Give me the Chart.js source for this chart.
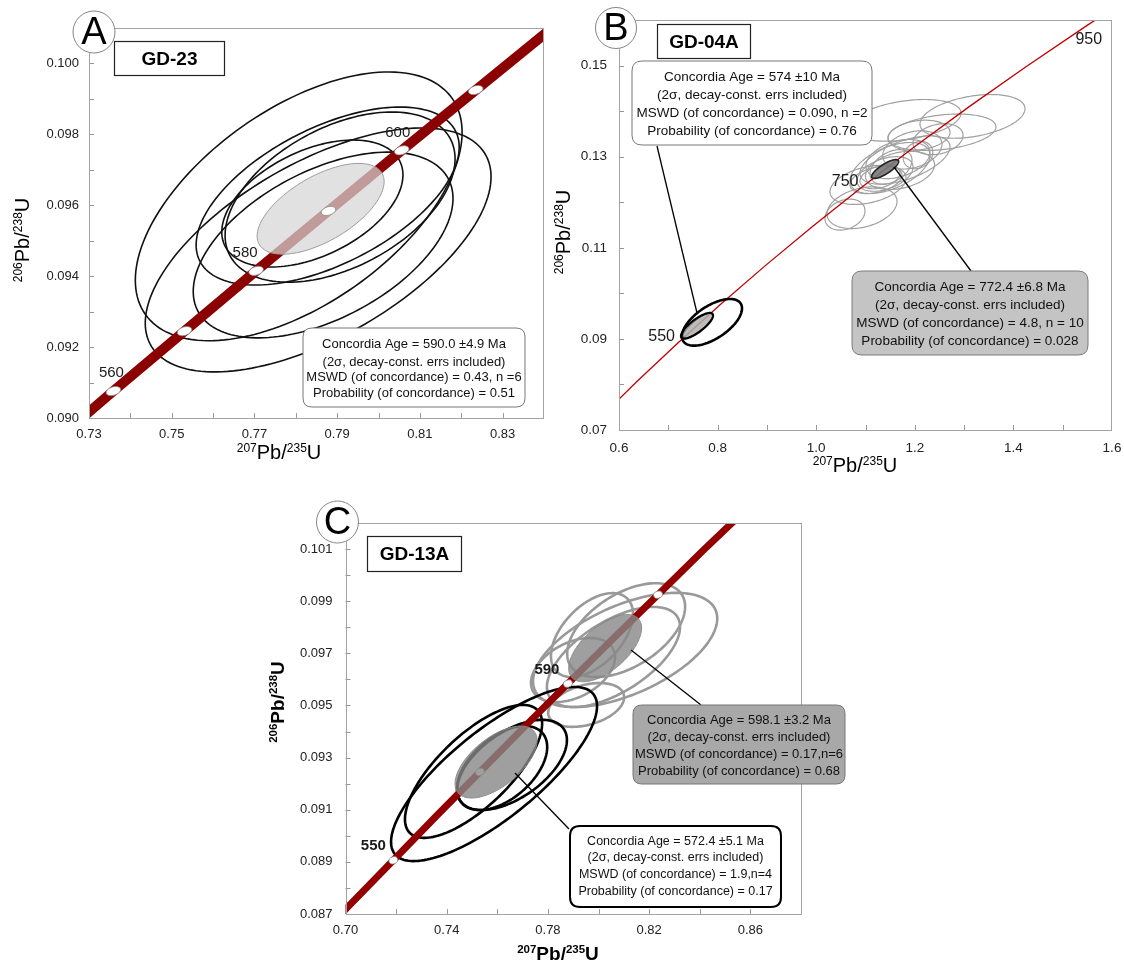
<!DOCTYPE html>
<html><head><meta charset="utf-8">
<script src="https://cdn.jsdelivr.net/npm/chart.js@4.4.1/dist/chart.umd.min.js"></script>
<style>
html,body{margin:0;padding:0;background:#fff;}
#wrap{position:relative;width:1124px;height:965px;overflow:hidden;background:#fff;}
canvas{position:absolute;}
</style></head><body>
<div id="wrap">
<canvas id="cA" width="562" height="470" style="left:0px;top:0px;width:562px;height:470px"></canvas>
<canvas id="cB" width="600" height="475" style="left:545px;top:0px;width:600px;height:475px"></canvas>
<canvas id="cC" width="600" height="485" style="left:250px;top:480px;width:600px;height:485px"></canvas>
</div>
<script>
// ---------------- DATA ----------------
// Concordia curve reference points (age, Ma) with 207Pb/235U and 206Pb/238U
const concAgesAC = [530,540,550,560,570,580,590,600,610,620,630,640,650];
const concX_AC   = [0.6853,0.7020,0.7189,0.7359,0.7531,0.7704,0.7879,0.8056,0.8235,0.8415,0.8598,0.8782,0.8968];
const concY_AC   = [0.08569,0.08738,0.08906,0.09076,0.09245,0.09415,0.09584,0.09755,0.09925,0.10096,0.10266,0.10438,0.10609];
const concAgesB  = [400,450,500,550,600,650,700,750,800,850,900,950,1000];
const concX_B    = [0.4828,0.5577,0.6363,0.7189,0.8056,0.8968,0.9925,1.0931,1.1987,1.3097,1.4263,1.5488,1.6773];
const concY_B    = [0.06402,0.07230,0.08065,0.08906,0.09755,0.10609,0.11470,0.12338,0.13213,0.14095,0.14983,0.15879,0.16781];

// age markers & labels
const A_markerAges = [560,570,580,590,600,610];
const A_labelAges  = [560,580,600];
const B_labelAges  = [550,750,950];
const C_markerAges = [550,570,590,610];
const C_labelAges  = [550,590];

// Panel A (GD-23) analyses: centre, 2s half-range in x & y, error correlation
const A_x   = [0.7807,0.7854,0.7866,0.7877,0.7840,0.7907];
const A_y   = [0.09597,0.09474,0.09488,0.09626,0.09605,0.09623];
const A_sx  = [0.0395,0.0418,0.0314,0.0318,0.0219,0.0278];
const A_sy  = [0.00379,0.00344,0.00262,0.00251,0.00179,0.00240];
const A_rho = [0.55,0.60,0.50,0.55,0.45,0.45];
// Panel A concordia-age ellipse
const A_mx = [0.7860], A_my = [0.09590], A_msx = [0.01535], A_msy = [0.00128], A_mrho = [0.60];

// Panel B (GD-04A) older population
const B_x   = [1.3170,1.2552,1.2085,1.1051,1.0584,1.1497,1.1659,1.2065,1.1396,1.1213,1.1517,1.2471,1.1801,1.1294,1.1700,1.1950,1.0929,1.1801];
const B_y   = [0.13886,0.13537,0.13472,0.12382,0.11729,0.12753,0.12949,0.13036,0.12622,0.12491,0.12775,0.13385,0.12927,0.12557,0.12700,0.13150,0.11881,0.13799];
const B_sx  = [0.1065,0.1095,0.0629,0.0771,0.0406,0.0811,0.0649,0.0300,0.0568,0.0527,0.0426,0.0507,0.0913,0.0406,0.0700,0.0600,0.0710,0.1136];
const B_sy  = [0.00480,0.00400,0.00330,0.00430,0.00340,0.00560,0.00430,0.00300,0.00380,0.00300,0.00380,0.00340,0.00530,0.00260,0.00420,0.00420,0.00458,0.00458];
const B_rho = [0.35,0.30,0.20,0.35,0.25,0.50,0.35,0.20,0.40,0.35,0.40,0.25,0.55,0.35,0.30,0.30,0.30,0.35];
// Panel B young population (n=2)
const B2_x = [0.7886,0.7582], B2_y = [0.09364,0.09288], B2_sx = [0.0609,0.0325], B2_sy = [0.00512,0.00283], B2_rho = [0.6,0.8];
// Panel B concordia-age ellipses (772.4 Ma, 574 Ma)
const B_mx = [1.1398,0.7602], B_my = [0.1273,0.09299], B_msx = [0.0274,0.0304], B_msy = [0.00207,0.00272], B_mrho = [0.8,0.85];

// Panel C (GD-13A) older population (grey, n=6)
const C_gx   = [0.7974,0.8109,0.8105,0.8059,0.7951,0.7899];
const C_gy   = [0.09770,0.09789,0.09713,0.09686,0.09502,0.09636];
const C_gsx  = [0.0162,0.0233,0.0364,0.0263,0.0150,0.0166];
const C_gsy  = [0.00161,0.00180,0.00219,0.00192,0.00084,0.00123];
const C_grho = [0.5,0.5,0.55,0.6,0.35,0.4];
// Panel C younger population (black, n=4)
const C_kx   = [0.7587,0.7506,0.7619,0.7658];
const C_ky   = [0.09237,0.09247,0.09260,0.09272];
const C_ksx  = [0.0407,0.0271,0.0178,0.0217];
const C_ksy  = [0.00334,0.00255,0.00161,0.00173];
const C_krho = [0.78,0.72,0.5,0.55];
// Panel C concordia-age ellipses (598.1 Ma, 572.4 Ma)
const C_mx = [0.8026,0.7595], C_my = [0.09720,0.09283], C_msx = [0.0144,0.0162], C_msy = [0.00129,0.00138], C_mrho = [0.6,0.6];

// Axis ticks (all tick marks) and labelled ticks
const A_xTicks = [0.73,0.74,0.75,0.76,0.77,0.78,0.79,0.80,0.81,0.82,0.83,0.84];
const A_xLabels = [0.73,0.75,0.77,0.79,0.81,0.83];
const A_yTicks = [0.090,0.091,0.092,0.093,0.094,0.095,0.096,0.097,0.098,0.099,0.100,0.101];
const A_yLabels = [0.090,0.092,0.094,0.096,0.098,0.100];
const B_xTicks = [0.6,0.7,0.8,0.9,1.0,1.1,1.2,1.3,1.4,1.5,1.6];
const B_xLabels = [0.6,0.8,1.0,1.2,1.4,1.6];
const B_yTicks = [0.07,0.08,0.09,0.10,0.11,0.12,0.13,0.14,0.15,0.16];
const B_yLabels = [0.07,0.09,0.11,0.13,0.15];
const C_xTicks = [0.70,0.72,0.74,0.76,0.78,0.80,0.82,0.84,0.86,0.88];
const C_xLabels = [0.70,0.74,0.78,0.82,0.86];
const C_yTicks = [0.087,0.088,0.089,0.090,0.091,0.092,0.093,0.094,0.095,0.096,0.097,0.098,0.099,0.100,0.101,0.102];
const C_yLabels = [0.087,0.089,0.091,0.093,0.095,0.097,0.099,0.101];

// text
const A_info = ["Concordia Age = 590.0 \u00B14.9 Ma","(2\u03C3, decay-const. errs included)","MSWD (of concordance) = 0.43, n =6","Probability (of concordance) = 0.51"];
const B_info1 = ["Concordia Age = 574 \u00B110 Ma","(2\u03C3, decay-const. errs included)","MSWD (of concordance) = 0.090, n =2","Probability (of concordance) = 0.76"];
const B_info2 = ["Concordia Age = 772.4 \u00B16.8 Ma","(2\u03C3, decay-const. errs included)","MSWD (of concordance) = 4.8, n = 10","Probability (of concordance) = 0.028"];
const C_info1 = ["Concordia Age = 598.1 \u00B13.2 Ma","(2\u03C3, decay-const. errs included)","MSWD (of concordance) = 0.17,n=6","Probability (of concordance) = 0.68"];
const C_info2 = ["Concordia Age = 572.4 \u00B15.1 Ma","(2\u03C3, decay-const. errs included)","MSWD (of concordance) = 1.9,n=4","Probability (of concordance) = 0.17"];

// ---------------- HELPERS ----------------
const FONT = "'Liberation Sans', Arial, Helvetica, sans-serif";
function pts(xs, ys){ return xs.map((x,i)=>({x:x, y:ys[i]})); }
function near(list, v){ return list.some(l=>Math.abs(l-v)<1e-9); }

function ellPath(ctx, xs, ys, cx, cy, sx, sy, r){
  const n=160, q=Math.sqrt(1-r*r);
  ctx.beginPath();
  for(let i=0;i<=n;i++){
    const t=2*Math.PI*i/n;
    const x=cx+sx*Math.cos(t), y=cy+sy*(r*Math.cos(t)+q*Math.sin(t));
    const px=xs.getPixelForValue(x), py=ys.getPixelForValue(y);
    if(i===0) ctx.moveTo(px,py); else ctx.lineTo(px,py);
  }
  ctx.closePath();
}
function drawEllipses(ctx, chart, X, Y, SX, SY, R, stroke, lw, fill){
  const xs=chart.scales.x, ys=chart.scales.y;
  for(let i=0;i<X.length;i++){
    ellPath(ctx,xs,ys,X[i],Y[i],SX[i],SY[i],R[i]);
    if(fill){ctx.fillStyle=fill;ctx.fill();}
    if(stroke){ctx.strokeStyle=stroke;ctx.lineWidth=lw;ctx.stroke();}
  }
}
function concPix(chart, ages, X, Y, age){
  const i=ages.indexOf(age);
  return {x:chart.scales.x.getPixelForValue(X[i]), y:chart.scales.y.getPixelForValue(Y[i])};
}
function drawMarkers(ctx, chart, ages, X, Y, list, rx, ry){
  list.forEach(a=>{
    const p=concPix(chart,ages,X,Y,a);
    ctx.beginPath(); ctx.ellipse(p.x,p.y,rx,ry,-0.3,0,2*Math.PI);
    ctx.fillStyle='#ffffff'; ctx.fill();
    ctx.strokeStyle='#8a8a8a'; ctx.lineWidth=0.8; ctx.stroke();
  });
}
function drawAgeLabels(ctx, chart, ages, X, Y, list, offs, font){
  ctx.font=font; ctx.fillStyle='#1a1a1a'; ctx.textAlign='center'; ctx.textBaseline='middle';
  list.forEach((a,k)=>{
    const p=concPix(chart,ages,X,Y,a);
    ctx.fillText(String(a), p.x+offs[k][0], p.y+offs[k][1]);
  });
}
function roundRect(ctx,x0,y0,x1,y1,r){
  ctx.beginPath();
  ctx.moveTo(x0+r,y0); ctx.lineTo(x1-r,y0); ctx.quadraticCurveTo(x1,y0,x1,y0+r);
  ctx.lineTo(x1,y1-r); ctx.quadraticCurveTo(x1,y1,x1-r,y1);
  ctx.lineTo(x0+r,y1); ctx.quadraticCurveTo(x0,y1,x0,y1-r);
  ctx.lineTo(x0,y0+r); ctx.quadraticCurveTo(x0,y0,x0+r,y0); ctx.closePath();
}
function infoBox(ctx,b,lines){
  roundRect(ctx,b.x0,b.y0,b.x1,b.y1,b.r);
  ctx.fillStyle=b.fill; ctx.fill();
  ctx.strokeStyle=b.stroke; ctx.lineWidth=b.lw; ctx.stroke();
  ctx.fillStyle='#111'; ctx.font=b.font; ctx.textAlign='center'; ctx.textBaseline='middle';
  lines.forEach((t,i)=>ctx.fillText(t,b.cx,b.ys[i]));
}
function nameBox(ctx,b,text){
  ctx.fillStyle='#fff'; ctx.fillRect(b.x0,b.y0,b.x1-b.x0,b.y1-b.y0);
  ctx.strokeStyle='#222'; ctx.lineWidth=1.2; ctx.strokeRect(b.x0+0.5,b.y0+0.5,b.x1-b.x0-1,b.y1-b.y0-1);
  ctx.fillStyle='#000'; ctx.font='bold 19px '+FONT; ctx.textAlign='center'; ctx.textBaseline='middle';
  ctx.fillText(text,(b.x0+b.x1)/2,(b.y0+b.y1)/2+1);
}
function letterCircle(ctx,c,letter){
  ctx.beginPath(); ctx.arc(c.x,c.y,c.r,0,2*Math.PI);
  ctx.fillStyle='#fff'; ctx.fill(); ctx.strokeStyle='#777'; ctx.lineWidth=0.9; ctx.stroke();
  ctx.fillStyle='#000'; ctx.font='38px '+FONT; ctx.textAlign='center'; ctx.textBaseline='middle';
  ctx.fillText(letter,c.x,c.y+2);
}
function leader(ctx,l){
  ctx.beginPath(); ctx.moveTo(l[0],l[1]); ctx.lineTo(l[2],l[3]);
  ctx.strokeStyle='#000'; ctx.lineWidth=1.3; ctx.stroke();
}
// axis title with superscripts, parts: [text, isSup]
function supTitle(ctx,cx,cy,rot,parts,big,small,bold){
  const w=(bold?'bold ':'');
  let total=0;
  parts.forEach(p=>{ctx.font=w+(p[1]?small:big)+'px '+FONT; total+=ctx.measureText(p[0]).width;});
  ctx.save(); ctx.translate(cx,cy); if(rot) ctx.rotate(-Math.PI/2);
  ctx.fillStyle='#000'; ctx.textAlign='left'; ctx.textBaseline='alphabetic';
  let x=-total/2; const base=big*0.36;
  parts.forEach(p=>{
    ctx.font=w+(p[1]?small:big)+'px '+FONT;
    ctx.fillText(p[0],x,p[1]?base-big*0.38:base);
    x+=ctx.measureText(p[0]).width;
  });
  ctx.restore();
}
const T207=[['207',1],['Pb/',0],['235',1],['U',0]];
const T206=[['206',1],['Pb/',0],['238',1],['U',0]];

function makePanel(cfg){
  const canvas=document.getElementById(cfg.id);
  const plugin={
    id:'deco'+cfg.id,
    beforeDatasetsDraw(chart){
      const c=chart.ctx, a=chart.chartArea; c.save();
      c.beginPath(); c.rect(a.left,a.top,a.right-a.left,a.bottom-a.top); c.clip();
      cfg.under(chart,c); c.restore();
    },
    afterDatasetsDraw(chart){
      const c=chart.ctx, a=chart.chartArea; c.save();
      c.beginPath(); c.rect(a.left,a.top,a.right-a.left,a.bottom-a.top); c.clip();
      cfg.over(chart,c); c.restore();
    },
    afterDraw(chart){
      const c=chart.ctx, a=chart.chartArea, xs=chart.scales.x, ys=chart.scales.y;
      c.save();
      c.strokeStyle='#a3a3a3'; c.lineWidth=1;
      c.strokeRect(Math.round(a.left)+0.5,Math.round(a.top)+0.5,Math.round(a.right-a.left)-1,Math.round(a.bottom-a.top));
      c.strokeStyle='#9a9a9a';
      cfg.xTicks.forEach(v=>{ const p=Math.round(xs.getPixelForValue(v))+0.5; if(p<a.left+2||p>a.right-2) return;
        c.beginPath(); c.moveTo(p,a.bottom); c.lineTo(p,a.bottom-5); c.stroke(); });
      cfg.yTicks.forEach(v=>{ const p=Math.round(ys.getPixelForValue(v))+0.5; if(p<a.top+2||p>a.bottom-2) return;
        c.beginPath(); c.moveTo(a.left,p); c.lineTo(a.left+5,p); c.stroke(); });
      c.translate(-cfg.off.x,-cfg.off.y);
      cfg.page(chart,c);
      c.restore();
    }
  };
  const H=cfg.h-cfg.area.bottom, W=cfg.area.left;
  return new Chart(canvas.getContext('2d'),{
    type:'scatter',
    data:{datasets:cfg.datasets},
    options:{
      responsive:false, animation:false, devicePixelRatio:1, events:[],
      layout:{padding:{left:0,top:cfg.area.top,right:cfg.w-cfg.area.right,bottom:0}},
      plugins:{legend:{display:false},tooltip:{enabled:false}},
      scales:{
        x:{type:'linear',min:cfg.xr[0],max:cfg.xr[1],
          grid:{display:false,drawTicks:false},border:{display:false},
          ticks:{autoSkip:false,maxRotation:0,padding:cfg.xPad,color:'#222',font:{family:FONT,size:cfg.tickSize},
            callback:(v)=>near(cfg.xLabels,v)?Number(v).toFixed(cfg.xDec):''},
          afterBuildTicks:(s)=>{s.ticks=cfg.xTicks.map(v=>({value:v}));},
          afterFit:(s)=>{s.height=H;}},
        y:{type:'linear',min:cfg.yr[0],max:cfg.yr[1],
          grid:{display:false,drawTicks:false},border:{display:false},
          ticks:{autoSkip:false,padding:cfg.yPad,color:'#222',font:{family:FONT,size:cfg.tickSize},
            callback:(v)=>near(cfg.yLabels,v)?Number(v).toFixed(cfg.yDec):''},
          afterBuildTicks:(s)=>{s.ticks=cfg.yTicks.map(v=>({value:v}));},
          afterFit:(s)=>{s.width=W;}}
      }
    },
    plugins:[plugin]
  });
}

// ---------------- PANEL A ----------------
makePanel({
  id:'cA', off:{x:0,y:0}, w:562, h:470, area:{left:89,top:28,right:544,bottom:418},
  xr:[0.73,0.84], yr:[0.090,0.101], xTicks:A_xTicks, xLabels:A_xLabels, yTicks:A_yTicks, yLabels:A_yLabels,
  xDec:2, yDec:3, xPad:9, yPad:10, tickSize:13,
  datasets:[{data:pts(concX_AC,concY_AC),showLine:true,borderColor:'#8b0000',borderWidth:10,pointRadius:0,clip:0,borderCapStyle:'butt'}],
  under:(ch,c)=>{ drawEllipses(c,ch,A_x,A_y,A_sx,A_sy,A_rho,'#111',1.6,null); },
  over:(ch,c)=>{
    drawEllipses(c,ch,A_mx,A_my,A_msx,A_msy,A_mrho,'#9a9a9a',1,'rgba(214,214,214,0.72)');
    drawMarkers(c,ch,concAgesAC,concX_AC,concY_AC,A_markerAges,7.5,4.2);
    drawAgeLabels(c,ch,concAgesAC,concX_AC,concY_AC,A_labelAges,[[-2,-18],[-11,-18],[-4,-17]],'15px '+FONT);
  },
  page:(ch,c)=>{
    infoBox(c,{x0:303,y0:328,x1:525,y1:407,r:9,fill:'#fff',stroke:'#777',lw:1,font:'13px '+FONT,cx:414,ys:[344,362,377,393]},A_info);
    nameBox(c,{x0:114,y0:41,x1:225,y1:76},'GD-23');
    letterCircle(c,{x:94,y:32,r:21},'A');
    supTitle(c,279,452,false,T207,20,12,false);
    supTitle(c,22,240,true,T206,20,12,false);
  }
});

// ---------------- PANEL B ----------------
makePanel({
  id:'cB', off:{x:545,y:0}, w:600, h:475, area:{left:74,top:16,right:567,bottom:430},
  xr:[0.6,1.6], yr:[0.07,0.16], xTicks:B_xTicks, xLabels:B_xLabels, yTicks:B_yTicks, yLabels:B_yLabels,
  xDec:1, yDec:2, xPad:10, yPad:12, tickSize:13.5,
  datasets:[{data:pts(concX_B,concY_B),showLine:true,borderColor:'#c00000',borderWidth:1.3,pointRadius:0,clip:0}],
  under:(ch,c)=>{ drawEllipses(c,ch,B_x,B_y,B_sx,B_sy,B_rho,'#a0a0a0',1.2,null); },
  over:(ch,c)=>{
    drawEllipses(c,ch,[B2_x[0]],[B2_y[0]],[B2_sx[0]],[B2_sy[0]],[B2_rho[0]],'#000',2.6,null);
    drawEllipses(c,ch,[B_mx[1]],[B_my[1]],[B_msx[1]],[B_msy[1]],[B_mrho[1]],'#555',1,'rgba(175,175,175,0.85)');
    drawEllipses(c,ch,[B2_x[1]],[B2_y[1]],[B2_sx[1]],[B2_sy[1]],[B2_rho[1]],'#000',2.2,null);
    drawEllipses(c,ch,[B_mx[0]],[B_my[0]],[B_msx[0]],[B_msy[0]],[B_mrho[0]],'#222',1.6,'rgba(120,120,120,0.9)');
    drawAgeLabels(c,ch,concAgesB,concX_B,concY_B,B_labelAges,[[-16,-7],[-17,-5],[2,14]],'16px '+FONT);
  },
  page:(ch,c)=>{
    leader(c,[657,146,697,313]);
    leader(c,[971,271,894,167]);
    infoBox(c,{x0:632,y0:61,x1:872,y1:145,r:10,fill:'#fff',stroke:'#777',lw:1,font:'13.5px '+FONT,cx:752,ys:[77,95,113,131]},B_info1);
    infoBox(c,{x0:852,y0:271,x1:1088,y1:355,r:10,fill:'#c4c4c4',stroke:'#7a7a7a',lw:1,font:'13.5px '+FONT,cx:970,ys:[287,305,323,341]},B_info2);
    nameBox(c,{x0:657,y0:24,x1:751,y1:59},'GD-04A');
    letterCircle(c,{x:616,y:28,r:20.5},'B');
    supTitle(c,855,465,false,T207,20,12,false);
    supTitle(c,563,232,true,T206,20,12,false);
  }
});

// ---------------- PANEL C ----------------
makePanel({
  id:'cC', off:{x:250,y:480}, w:600, h:485, area:{left:95.5,top:43,right:551,bottom:434},
  xr:[0.70,0.88], yr:[0.087,0.102], xTicks:C_xTicks, xLabels:C_xLabels, yTicks:C_yTicks, yLabels:C_yLabels,
  xDec:2, yDec:3, xPad:9, yPad:13, tickSize:13,
  datasets:[{data:pts(concX_AC,concY_AC),showLine:true,borderColor:'#920000',borderWidth:7,pointRadius:0,clip:0,borderCapStyle:'butt'}],
  under:(ch,c)=>{
    drawEllipses(c,ch,C_gx,C_gy,C_gsx,C_gsy,C_grho,'#999',2.6,null);
    drawEllipses(c,ch,C_kx,C_ky,C_ksx,C_ksy,C_krho,'#000',2.6,null);
  },
  over:(ch,c)=>{
    drawMarkers(c,ch,concAgesAC,concX_AC,concY_AC,C_markerAges,4.5,3.5);
    drawEllipses(c,ch,C_mx,C_my,C_msx,C_msy,C_mrho,'#8a8a8a',1,'rgba(135,135,135,0.8)');
    drawAgeLabels(c,ch,concAgesAC,concX_AC,concY_AC,C_labelAges,[[-20,-14],[-21,-14]],'bold 15px '+FONT);
  },
  page:(ch,c)=>{
    leader(c,[701,705,631,650]);
    leader(c,[569,829,515,773]);
    infoBox(c,{x0:633,y0:705,x1:845,y1:784,r:9,fill:'#a8a8a8',stroke:'#777',lw:1,font:'13px '+FONT,cx:739,ys:[720,737,754,771]},C_info1);
    infoBox(c,{x0:570,y0:826,x1:781,y1:907,r:10,fill:'#fff',stroke:'#000',lw:2,font:'12.5px '+FONT,cx:675.5,ys:[842,858,875,892]},C_info2);
    nameBox(c,{x0:367,y0:536,x1:462,y1:572},'GD-13A');
    letterCircle(c,{x:337.5,y:522,r:21},'C');
    supTitle(c,558,953,false,T207,19,11.5,true);
    supTitle(c,277,702,true,T206,19,11.5,true);
  }
});
</script>
</body></html>
